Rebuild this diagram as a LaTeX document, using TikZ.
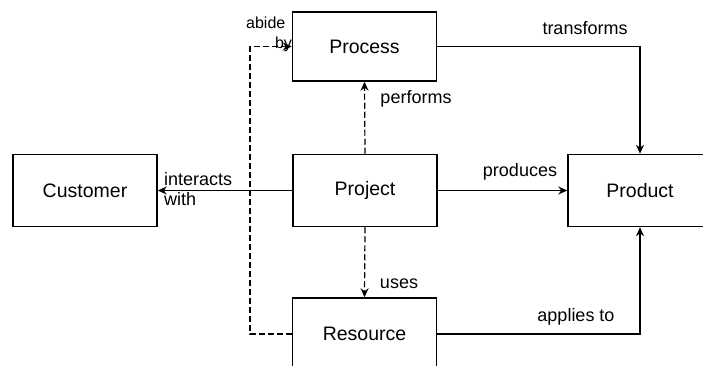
\documentclass[tikz,border=0pt]{standalone}
\usepackage{fontspec}
\setmainfont{Liberation Sans}
\usetikzlibrary{arrows.meta}
\begin{document}
\begin{tikzpicture}[x=1pt,y=-1pt,
  box/.style={draw, line width=1.5pt, minimum width=144pt, minimum height=72pt, inner sep=0pt, font=\fontsize{19.5}{22}\selectfont},
  lbl/.style={font=\fontsize{18}{20}\selectfont, inner sep=0pt},
  conn/.style={line width=1.2pt, -{Stealth[length=9pt,width=8pt]}},
  dconn/.style={conn, dash pattern=on 6pt off 3pt}]
\useasboundingbox (0,0) rectangle (703,366);
\node[box] (customer) at (85,190.5) {Customer};
\node[box, minimum height=69pt] (process) at (364.5,46.5) {Process};
\node[box] (project) at (365,190.5) {Project};
\node[box] (product) at (640,190.5) {Product};
\node[box] (resource) at (364.5,334) {Resource};
\coordinate (bend) at (250,0);
% connectors
\draw[conn] (process.east) -| (product.north);
\draw[conn] (resource.east) -| (product.south);
\draw[conn] (project.east) -- (product.west);
\draw[conn] (project.west) -- (customer.east);
\draw[dconn] (project.north) -- (process.south);
\draw[dconn] (project.south) -- (resource.north);
\draw[dconn] (resource.west) -- (resource.west -| bend) -- (process.west -| bend) -- (process.west);
% labels
\node[lbl] (ltransforms) at (585,28) {transforms};
\node[lbl] (lperforms) at (416,99) {performs};
\node[lbl] (lproduces) at (520,172) {produces};
\node[lbl] (luses) at (399,284) {uses};
\node[lbl] (lapplies) at (576,317) {applies to};
\node[lbl, align=left, anchor=west] (linteracts) at (164,189) {interacts\\with};
\node[lbl, font=\fontsize{16}{20}\selectfont, align=left, anchor=west] (labide) at (246,34) {abide\\\hspace*{1.8em}by};
\end{tikzpicture}
\end{document}
